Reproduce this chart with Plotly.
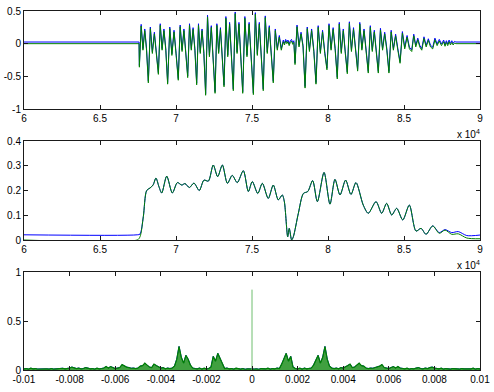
import plotly.graph_objects as go

# ---------------- data ----------------
# Top panel: time waveform, one entry per pitch period
seg1_x = [67590, 68180, 68840, 69450, 70150, 70770, 71360, 71950, 72570, 73160, 73770, 74390, 75090, 75740, 76400]
seg1_trough = [-0.36, -0.6, -0.47, -0.62, -0.56, -0.52, -0.63, -0.79, -0.76, -0.66, -0.72, -0.76, -0.78, -0.72, -0.6]
seg1_peak = [0.27, 0.23, 0.28, 0.23, 0.26, 0.28, 0.28, 0.41, 0.28, 0.39, 0.46, 0.39, 0.45, 0.4, 0.2]
seg1_dip = [-0.1, -0.15, -0.1, -0.18, -0.12, -0.1, -0.15, -0.2, -0.15, -0.2, -0.15, -0.2, -0.18, -0.15, -0.1]
seg1_peak2 = [0.2, 0.15, 0.2, 0.18, 0.2, 0.22, 0.2, 0.25, 0.22, 0.3, 0.3, 0.3, 0.3, 0.25, 0.1]

gap_y = [0.03, -0.02, 0.04, 0.0, 0.03, -0.03, 0.02, 0.04, -0.01, 0.02]

seg2_x = [77830, 78490, 79210, 79930, 80610, 81270, 81950, 82650, 83310, 84010, 84740, 85510, 86170, 86890]
seg2_trough = [-0.32, -0.68, -0.62, -0.4, -0.54, -0.46, -0.42, -0.45, -0.45, -0.45, -0.3, -0.12, -0.1, -0.08]
seg2_peak = [0.26, 0.23, 0.25, 0.28, 0.3, 0.31, 0.3, 0.25, 0.21, 0.18, 0.16, 0.12, 0.08, 0.06]
seg2_dip = [-0.05, -0.12, -0.15, -0.1, -0.15, -0.12, -0.1, -0.12, -0.1, -0.1, -0.08, -0.05, -0.05, -0.03]
seg2_peak2 = [0.15, 0.2, 0.18, 0.22, 0.2, 0.22, 0.2, 0.18, 0.15, 0.12, 0.1, 0.06, 0.05, 0.04]

tail_y = [0.03, -0.04, 0.02, -0.03, 0.03, -0.02, 0.02, -0.02, 0.01, 0.0]
top_blue_offset = 0.025

# Middle panel: envelope
mid_x = [60000, 67450, 67632, 67850, 68070, 68290, 68490, 68680, 68880, 69060, 69390, 69760, 70090,
         70380, 70590, 70880, 71180, 71530, 71840, 72130, 72450, 72740, 73050, 73380, 73700, 74030,
         74430, 74760, 75020, 75380, 75680, 76070, 76400, 76730, 76990, 77130, 77350, 77450, 77610,
         77720, 78050, 78380, 78670, 78990, 79300, 79740, 80130, 80460, 80790, 81160, 81510, 81840,
         82320, 82650, 83160, 83530, 83860, 84190, 84520, 84920, 85350, 85790, 86120, 86450, 86890,
         87320, 87700, 88140, 88570, 89130, 90000]
mid_green = [0, 0, 0.013, 0.094, 0.2, 0.21, 0.222, 0.25, 0.215, 0.19, 0.258, 0.19, 0.232,
             0.222, 0.228, 0.212, 0.23, 0.2, 0.242, 0.238, 0.303, 0.256, 0.303, 0.229, 0.261, 0.232,
             0.28, 0.196, 0.236, 0.188, 0.229, 0.168, 0.222, 0.162, 0.182, 0.154, 0.013, 0.047, 0.0,
             0.013, 0.108, 0.188, 0.196, 0.24, 0.155, 0.273, 0.145, 0.245, 0.182, 0.242, 0.184, 0.232,
             0.141, 0.108, 0.155, 0.108, 0.148, 0.101, 0.128, 0.081, 0.141, 0.036, 0.047, 0.023, 0.057,
             0.027, 0.04, 0.023, 0.025, 0.008, 0.005]
mid_blue = [0.021, 0.021, 0.024, 0.094, 0.2, 0.21, 0.222, 0.25, 0.215, 0.19, 0.258, 0.19, 0.232,
            0.222, 0.228, 0.212, 0.23, 0.2, 0.242, 0.238, 0.303, 0.256, 0.303, 0.229, 0.261, 0.232,
            0.28, 0.196, 0.236, 0.188, 0.229, 0.168, 0.222, 0.162, 0.182, 0.154, 0.013, 0.047, 0.0,
            0.013, 0.108, 0.188, 0.196, 0.24, 0.155, 0.273, 0.145, 0.245, 0.182, 0.242, 0.184, 0.232,
            0.141, 0.108, 0.155, 0.108, 0.148, 0.101, 0.128, 0.081, 0.141, 0.036, 0.047, 0.023, 0.057,
            0.03, 0.042, 0.03, 0.034, 0.018, 0.02]

# Bottom panel: spectrum magnitude, positive half at 0.0001 steps (0.0001 .. 0.0100)
spec_step = 0.0001
spec_pos = [0.01, 0.012, 0.008, 0.015, 0.01, 0.012, 0.018, 0.01, 0.015, 0.012,
            0.02, 0.015, 0.06, 0.12, 0.17, 0.09, 0.14, 0.03, 0.015, 0.012,
            0.018, 0.01, 0.02, 0.012, 0.015, 0.02, 0.05, 0.11, 0.15, 0.07,
            0.13, 0.24, 0.11, 0.04, 0.02, 0.015, 0.02, 0.012, 0.025, 0.02,
            0.03, 0.045, 0.06, 0.025, 0.03, 0.05, 0.07, 0.045, 0.04, 0.02,
            0.015, 0.02, 0.018, 0.025, 0.03, 0.04, 0.055, 0.025, 0.02, 0.015,
            0.025, 0.035, 0.02, 0.035, 0.02, 0.015, 0.012, 0.018, 0.01, 0.015,
            0.012, 0.02, 0.025, 0.015, 0.012, 0.02, 0.015, 0.025, 0.03, 0.02,
            0.015, 0.012, 0.018, 0.01, 0.015, 0.012, 0.01, 0.015, 0.01, 0.012,
            0.01, 0.015, 0.012, 0.01, 0.015, 0.012, 0.018, 0.01, 0.015, 0.012]
spec_dc = 0.82
spec_zero_base = 0.012

top_ticks = [60000, 65000, 70000, 75000, 80000, 85000, 90000]
top_ticktext = ["6", "6.5", "7", "7.5", "8", "8.5", "9"]
top_yticks = [-1, -0.5, 0, 0.5]
top_yticktext = ["-1", "-0.5", "0", "0.5"]
mid_yticks = [0, 0.1, 0.2, 0.3, 0.4]
mid_yticktext = ["0", "0.1", "0.2", "0.3", "0.4"]
bot_xticks = [-0.01, -0.008, -0.006, -0.004, -0.002, 0, 0.002, 0.004, 0.006, 0.008, 0.01]
bot_xticktext = ["-0.01", "-0.008", "-0.006", "-0.004", "-0.002", "0", "0.002", "0.004", "0.006", "0.008", "0.01"]
bot_yticks = [0, 0.5, 1]
bot_yticktext = ["0", "0.5", "1"]

# ---------------- build series ----------------
fracs = [0.0, 0.2, 0.4, 0.6, 0.8]


def add_segment(xs, ys, sx, tr, pk, dp, p2):
    for k in range(len(sx)):
        L = (sx[k + 1] - sx[k]) if k + 1 < len(sx) else (sx[k] - sx[k - 1])
        vals = [tr[k], pk[k], dp[k], p2[k], dp[k]]
        for f, v in zip(fracs, vals):
            xs.append(sx[k] + f * L)
            ys.append(v)
    return sx[-1] + ((sx[-1] - sx[-2]))


def add_noise(xs, ys, x0, x1, vals):
    n = len(vals)
    for i, v in enumerate(vals):
        xs.append(x0 + (x1 - x0) * i / n)
        ys.append(v)


top_x = [60000, seg1_x[0] - 20]
top_y = [0.0, 0.0]
end1 = add_segment(top_x, top_y, seg1_x, seg1_trough, seg1_peak, seg1_dip, seg1_peak2)
add_noise(top_x, top_y, end1, seg2_x[0], gap_y)
end2 = add_segment(top_x, top_y, seg2_x, seg2_trough, seg2_peak, seg2_dip, seg2_peak2)
add_noise(top_x, top_y, end2, 88500, tail_y)
top_x += [88500, 90000]
top_y += [0.0, 0.0]
top_y_blue = [v + top_blue_offset for v in top_y]

n_pos = len(spec_pos)
bx_pos = [spec_step * (i + 1) for i in range(n_pos)]
bot_x = [-v for v in reversed(bx_pos)] + [0.0] + bx_pos
bot_y = list(reversed(spec_pos)) + [spec_zero_base] + spec_pos

BLUE = "rgb(0,0,255)"
GREEN = "rgb(0,128,0)"

fig = go.Figure()
# top
fig.add_trace(go.Scatter(x=top_x, y=top_y_blue, mode="lines", line=dict(color=BLUE, width=1),
                         xaxis="x", yaxis="y", showlegend=False, hoverinfo="skip"))
fig.add_trace(go.Scatter(x=top_x, y=top_y, mode="lines", line=dict(color=GREEN, width=1),
                         xaxis="x", yaxis="y", showlegend=False, hoverinfo="skip"))
# middle
fig.add_trace(go.Scatter(x=mid_x, y=mid_blue, mode="lines",
                         line=dict(color=BLUE, width=1, shape="spline", smoothing=0.8),
                         xaxis="x2", yaxis="y2", showlegend=False, hoverinfo="skip"))
fig.add_trace(go.Scatter(x=mid_x, y=mid_green, mode="lines",
                         line=dict(color=GREEN, width=1, shape="spline", smoothing=0.8),
                         xaxis="x2", yaxis="y2", showlegend=False, hoverinfo="skip"))
# bottom
fig.add_trace(go.Scatter(x=bot_x, y=bot_y, mode="lines", line=dict(color=BLUE, width=1),
                         xaxis="x3", yaxis="y3", showlegend=False, hoverinfo="skip"))
fig.add_trace(go.Scatter(x=bot_x, y=bot_y, mode="lines", line=dict(color=GREEN, width=1.2),
                         fill="tozeroy", fillcolor="rgba(0,128,0,0.75)",
                         xaxis="x3", yaxis="y3", showlegend=False, hoverinfo="skip"))
fig.add_trace(go.Scatter(x=[0, 0], y=[0, spec_dc], mode="lines",
                         line=dict(color="rgb(110,190,110)", width=1),
                         xaxis="x3", yaxis="y3", showlegend=False, hoverinfo="skip"))

W, H = 494, 392
xdom = [24 / W, 480 / W]


def ydom(top_px, bot_px):
    return [1 - bot_px / H, 1 - top_px / H]


FONT = dict(family="Liberation Sans, Arial, sans-serif", size=10, color="black")
axis_common = dict(showgrid=False, zeroline=False, showline=True, linecolor="#1a1a1a", linewidth=1,
                   mirror="ticks", ticks="inside", ticklen=4, tickcolor="#1a1a1a", tickwidth=1,
                   automargin=False, tickfont=FONT)

fig.update_layout(
    width=W, height=H,
    margin=dict(l=0, r=0, t=0, b=0, pad=0, autoexpand=False),
    paper_bgcolor="white", plot_bgcolor="white",
    xaxis=dict(domain=xdom, anchor="y", range=[60000, 90000], tickvals=top_ticks, ticktext=top_ticktext, **axis_common),
    yaxis=dict(domain=ydom(11, 109), anchor="x", range=[-1, 0.5], tickvals=top_yticks, ticktext=top_yticktext, **axis_common),
    xaxis2=dict(domain=xdom, anchor="y2", range=[60000, 90000], tickvals=top_ticks, ticktext=top_ticktext, **axis_common),
    yaxis2=dict(domain=ydom(141, 240), anchor="x2", range=[0, 0.4], tickvals=mid_yticks, ticktext=mid_yticktext, **axis_common),
    xaxis3=dict(domain=xdom, anchor="y3", range=[-0.01, 0.01], tickvals=bot_xticks, ticktext=bot_xticktext, **axis_common),
    yaxis3=dict(domain=ydom(272, 370), anchor="x3", range=[0, 1], tickvals=bot_yticks, ticktext=bot_yticktext, **axis_common),
    annotations=[
        dict(text="x 10<sup>4</sup>", xref="paper", yref="paper", x=482 / W, y=1 - 126 / H,
             xanchor="right", yanchor="top", showarrow=False, font=FONT),
        dict(text="x 10<sup>4</sup>", xref="paper", yref="paper", x=482 / W, y=1 - 257 / H,
             xanchor="right", yanchor="top", showarrow=False, font=FONT),
    ],
)

fig.write_html("out.html", config={"displayModeBar": False},
               post_script="document.body.style.margin='0';document.body.style.overflow='hidden';")
